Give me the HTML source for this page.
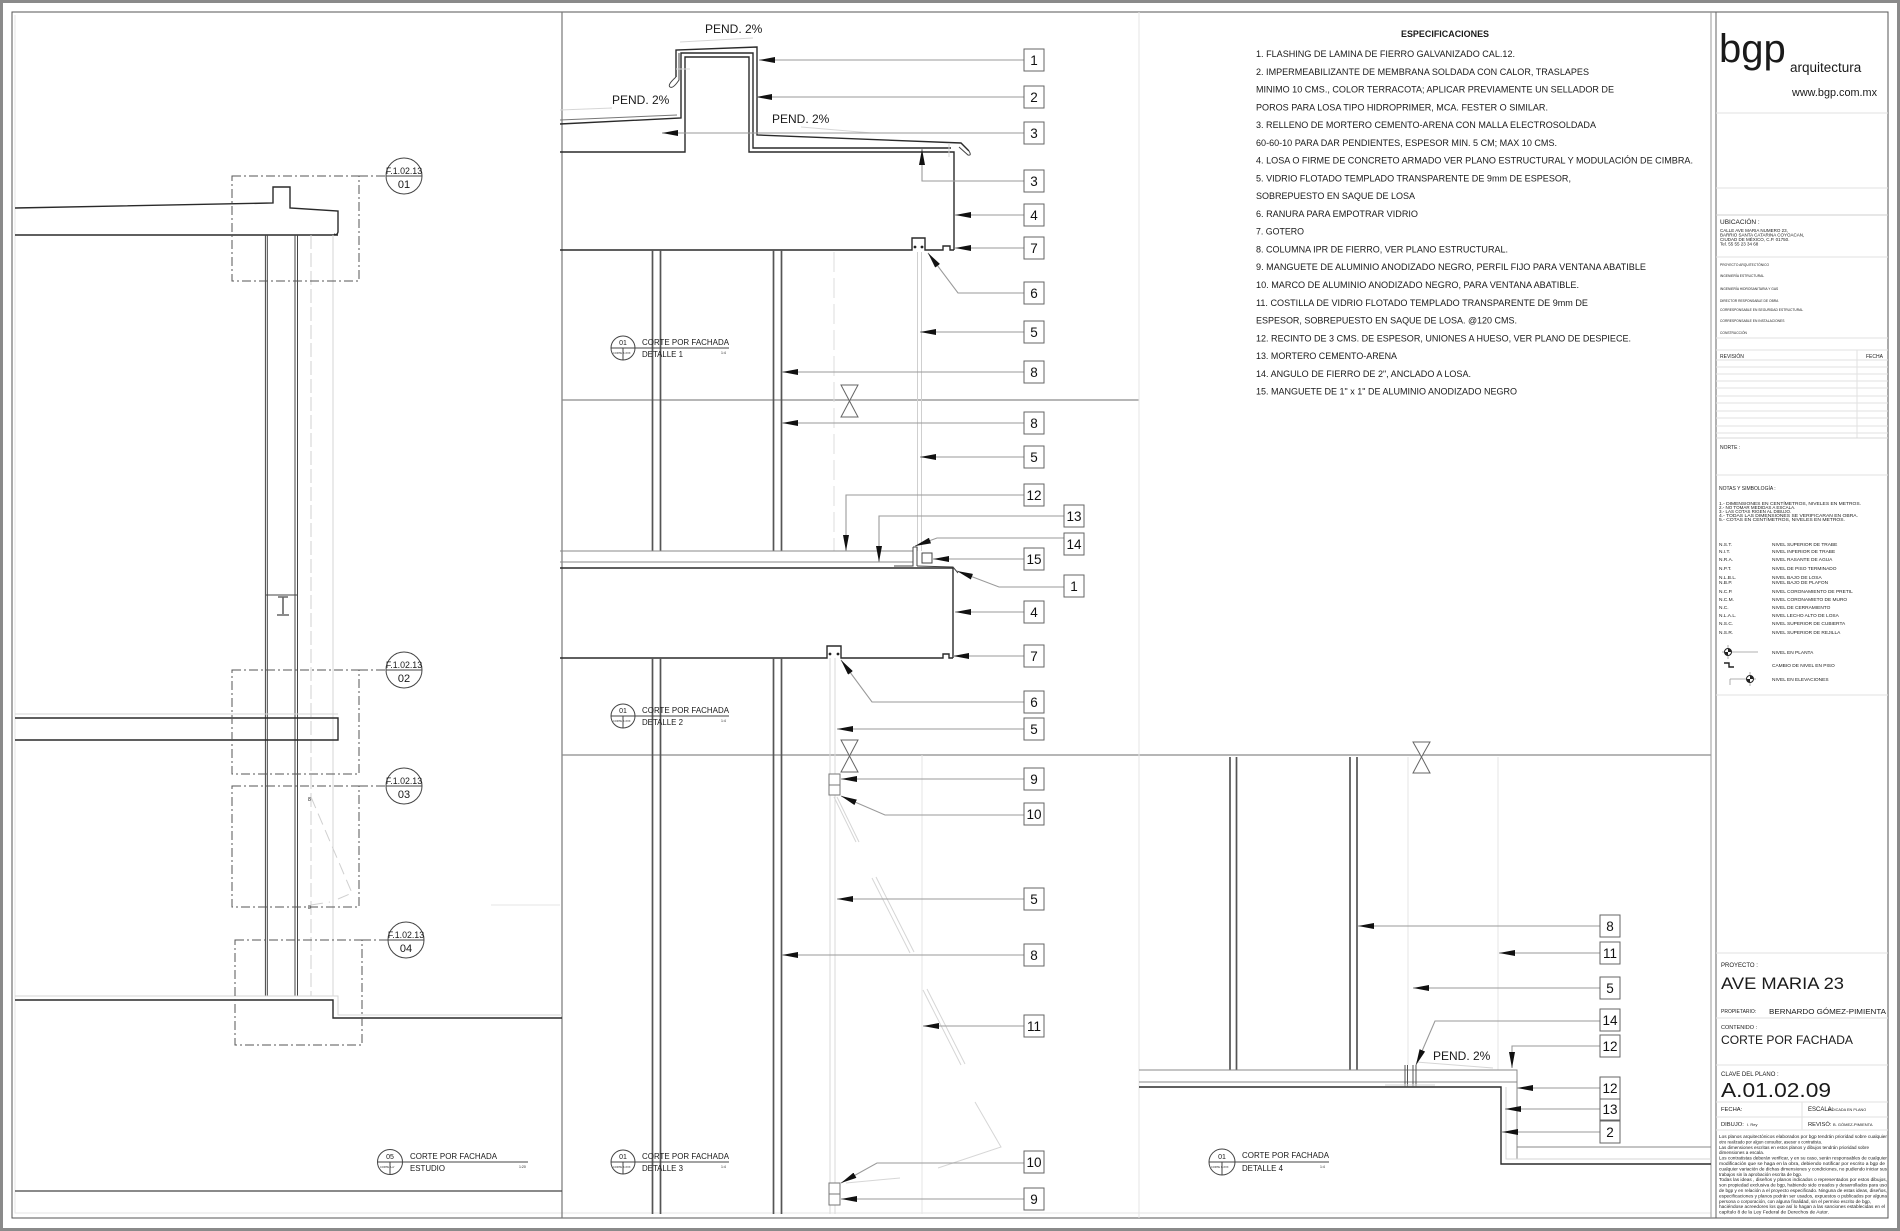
<!DOCTYPE html>
<html><head><meta charset="utf-8"><style>
html,body{margin:0;padding:0;background:#fff;overflow:hidden}
svg{display:block}
text{font-family:"Liberation Sans",Arial,sans-serif;fill:#1a1a1a}
.d{stroke:#2a2a2a;fill:none;stroke-width:1.4}
.t{stroke:#444;fill:none;stroke-width:1}
.g{stroke:#888;fill:none;stroke-width:1}
.lt{stroke:#d6d6d6;fill:none;stroke-width:1}
.lx{stroke:#e6e6e6;fill:none;stroke-width:1}
.col{stroke:#555;fill:none;stroke-width:1.7}
.l{stroke:#9a9a9a;fill:none;stroke-width:1.1;marker-end:url(#a)}
.b{fill:#fff;stroke:#666;stroke-width:1}
.n{font-size:13.5px;text-anchor:middle;fill:#111}
.dd{stroke:#555;fill:none;stroke-width:1;stroke-dasharray:9 3 2 3}
.sp{font-size:9px}
.tb{stroke:#e2e2e2;fill:none;stroke-width:1}
</style></head><body>
<svg width="1900" height="1231" viewBox="0 0 1900 1231" xmlns="http://www.w3.org/2000/svg">
<defs>
<marker id="a" markerUnits="userSpaceOnUse" markerWidth="16" markerHeight="6" refX="16" refY="3" orient="auto"><path d="M0,0 L16,3 L0,6 Z" fill="#111"/></marker>
</defs>
<rect x="0" y="0" width="1900" height="1231" fill="#fff"/>
<!-- outer frames -->
<rect x="1.5" y="1.5" width="1897" height="1228" fill="none" stroke="#8a8a8a" stroke-width="3"/>
<rect x="12" y="12" width="1876" height="1206" fill="none" stroke="#555" stroke-width="1"/>
<path class="lx" d="M15,15 V1213 H1711"/>

<!-- panel dividers -->
<path d="M562,12 V1218" stroke="#777" stroke-width="1.2" fill="none"/>
<path d="M562,400 H1139" stroke="#8a8a8a" stroke-width="1.2" fill="none"/>
<path d="M562,755 H1711" stroke="#8a8a8a" stroke-width="1.2" fill="none"/>
<path class="lx" d="M1139,12 V1218"/>
<path d="M1711,12 V1218" stroke="#999" stroke-width="1" fill="none"/>
<path d="M1716,12 V1218" stroke="#666" stroke-width="1" fill="none"/>

<!-- ================= LEFT SECTION ================= -->
<path class="d" d="M15,208 L273,203 V187 H290 V208 L338,211 V232 Q337,236 334,234"/>
<path class="d" d="M15,235 H338"/>
<!-- columns -->
<path class="t" d="M265.4,235 V996 M267.3,235 V996 M295,235 V996 M297.5,235 V996" stroke="#555"/>
<path d="M311,235 V996" stroke="#d0d0d0" stroke-dasharray="14 4" fill="none"/>
<path class="lt" d="M333,235 V996"/>
<!-- I beam -->
<path class="t" d="M266,595 H297"/>
<path d="M278,597 H288 M283,597 V614 M277,615 H289" stroke="#666" stroke-width="1.6" fill="none"/>
<!-- middle slab -->
<path class="lt" d="M15,714 H338"/>
<path class="d" d="M15,718 H338 V740 H15"/>
<!-- floor -->
<path class="lt" d="M15,996 H338 V1015 H562"/>
<path class="d" d="M15,1000 H333 V1018 H562" stroke-width="1.8"/>
<path d="M15,1191 H562" stroke="#444" stroke-width="1.2" fill="none"/>
<path class="lx" d="M491,905 H560"/>
<!-- door swing -->
<path d="M311,797 L352,893 L338,899 M311,905 L330,902" stroke="#d0d0d0" stroke-dasharray="12 6" fill="none"/>
<text x="308" y="801" font-size="5" fill="#aaa">8</text>
<text x="308" y="909" font-size="5" fill="#aaa">8</text>
<!-- dashed detail boxes -->
<rect class="dd" x="232" y="176" width="127" height="105"/>
<path class="dd" d="M359,176 H386"/>
<rect class="dd" x="232" y="670" width="127" height="104"/>
<path class="dd" d="M359,670 H386"/>
<rect class="dd" x="232" y="786" width="127" height="121"/>
<path class="dd" d="M359,786 H386"/>
<rect class="dd" x="235" y="940" width="127" height="105"/>
<path class="dd" d="M362,940 H388"/>
<!-- reference circles -->
<g>
<circle cx="404" cy="176" r="18" class="t"/><path class="t" d="M386,176 H422"/>
<text x="404" y="174" font-size="8.8" text-anchor="middle">F.1.02.13</text><text x="404" y="188" font-size="11" text-anchor="middle">01</text>
<circle cx="404" cy="670" r="18" class="t"/><path class="t" d="M386,670 H422"/>
<text x="404" y="668" font-size="8.8" text-anchor="middle">F.1.02.13</text><text x="404" y="682" font-size="11" text-anchor="middle">02</text>
<circle cx="404" cy="786" r="18" class="t"/><path class="t" d="M386,786 H422"/>
<text x="404" y="784" font-size="8.8" text-anchor="middle">F.1.02.13</text><text x="404" y="798" font-size="11" text-anchor="middle">03</text>
<circle cx="406" cy="940" r="18" class="t"/><path class="t" d="M388,940 H424"/>
<text x="406" y="938" font-size="8.8" text-anchor="middle">F.1.02.13</text><text x="406" y="952" font-size="11" text-anchor="middle">04</text>
</g>
<!-- label estudio -->
<g>
<circle cx="390" cy="1162" r="12.5" class="t"/><path class="t" d="M377.5,1162 H528 M390,1162 V1174.5"/>
<text x="390" y="1159" font-size="7" text-anchor="middle">05</text>
<text x="380" y="1168" font-size="2.6" fill="#555">CORTE A-A'</text>
<text x="410" y="1159" font-size="8" textLength="87" lengthAdjust="spacingAndGlyphs">CORTE POR FACHADA</text>
<text x="410" y="1171" font-size="8" textLength="35" lengthAdjust="spacingAndGlyphs">ESTUDIO</text>
<text x="519" y="1168" font-size="3.5" fill="#555">1:20</text>
</g>

<!-- ================= DETAIL 1 ================= -->
<path class="d" d="M560,152 H685 V57 H749 V152 H954 V250"/>
<path class="d" stroke-width="1.8" d="M560,250 H912 V238 H925 V250 H943 V246 H950 V250 H954"/>
<circle cx="915" cy="247" r="1.4" fill="#222"/><circle cx="922" cy="247" r="1.4" fill="#222"/>
<path class="d" stroke-width="1.1" d="M560,124 L681,118 V53 H753 V148 H951"/>
<path stroke="#777" stroke-width="1" fill="none" d="M560,120 L677,115"/>
<path class="d" stroke-width="1.1" d="M676,77 V50 L757,47 V135 L961,143 L969,151"/>
<path class="t" d="M676,77 Q667,85 670,87 Q673,89 679,80 V53"/>
<path class="t" d="M969,151 Q972,156 968,155 L959,147"/>
<path class="lt" d="M680,42 L753,38 M560,110 L612,108 M801,127 L872,133 M949,143 V157 M676,69 H690"/>
<text x="705" y="33" font-size="12">PEND. 2%</text>
<text x="612" y="104" font-size="12">PEND. 2%</text>
<text x="772" y="123" font-size="12">PEND. 2%</text>
<!-- columns detail 1-2 -->
<path class="col" d="M652.5,250 V551 M660.5,250 V551 M773.5,250 V551 M781.5,250 V551"/>
<path d="M834,252 V551" stroke="#dcdcdc" stroke-dasharray="20 6" fill="none"/>
<path d="M917.5,252 V551 M921.5,252 V551" stroke="#cfcfcf" fill="none"/>
<!-- break 1 -->
<path d="M841,385 H858 L849.5,401 Z M841,417 H858 L849.5,401 Z" fill="#fff" stroke="#666" stroke-width="1"/>
<!-- label detail 1 -->
<g>
<circle cx="623" cy="348" r="12" class="t"/><path class="t" d="M611,348 H729 M623,348 V360"/>
<text x="623" y="345" font-size="7" text-anchor="middle">01</text>
<text x="613" y="354" font-size="2.6" fill="#555">CORTE X-XXX</text>
<text x="642" y="345" font-size="8" textLength="87" lengthAdjust="spacingAndGlyphs">CORTE POR FACHADA</text>
<text x="642" y="357" font-size="8" textLength="41" lengthAdjust="spacingAndGlyphs">DETALLE 1</text>
<text x="721" y="354" font-size="3.5" fill="#555">1:4</text>
</g>
<!-- callouts detail 1 -->
<path class="l" d="M1024,60 H759"/><rect class="b" x="1024" y="49" width="20" height="22"/><text class="n" x="1034" y="65">1</text>
<path class="l" d="M1024,97 H756"/><rect class="b" x="1024" y="86" width="20" height="22"/><text class="n" x="1034" y="102">2</text>
<path class="l" d="M1024,133 H662"/><rect class="b" x="1024" y="122" width="20" height="22"/><text class="n" x="1034" y="138">3</text>
<path class="l" d="M1024,181 H922 V149"/><rect class="b" x="1024" y="170" width="20" height="22"/><text class="n" x="1034" y="186">3</text>
<path class="l" d="M1024,215 H955"/><rect class="b" x="1024" y="204" width="20" height="22"/><text class="n" x="1034" y="220">4</text>
<path class="l" d="M1024,248 H955"/><rect class="b" x="1024" y="237" width="20" height="22"/><text class="n" x="1034" y="253">7</text>
<path class="l" d="M1024,293 H958 L928,253"/><rect class="b" x="1024" y="282" width="20" height="22"/><text class="n" x="1034" y="298">6</text>
<path class="l" d="M1024,332 H920"/><rect class="b" x="1024" y="321" width="20" height="22"/><text class="n" x="1034" y="337">5</text>
<path class="l" d="M1024,372 H782"/><rect class="b" x="1024" y="361" width="20" height="22"/><text class="n" x="1034" y="377">8</text>

<!-- ================= DETAIL 2 ================= -->
<path class="g" d="M560,551 H913"/>
<path class="g" stroke="#999" d="M560,562 H913"/>
<path class="d" d="M560,568 H953 V658"/>
<path class="d" stroke-width="1.8" d="M560,658 H827 V646 H841 V658 H943 V654 H949 V658 H953"/>
<circle cx="830" cy="654" r="1.4" fill="#222"/><circle cx="838" cy="654" r="1.4" fill="#222"/>
<path class="t" d="M913,547 V566 H894 M917,547 V566 M913,547 H917"/>
<rect x="922" y="553" width="10" height="10" fill="#fff" stroke="#444"/>
<path class="t" d="M917,566 L953,567 L958,573"/>
<path class="col" d="M652.5,658 V1214 M660.5,658 V1214 M773.5,658 V1214 M781.5,658 V1214"/>
<path d="M830,658 V1214 M835,658 V1214" stroke="#dadada" fill="none"/>
<path class="lx" d="M922,755 V1214"/>
<path d="M841,740 H858 L849.5,756 Z M841,772 H858 L849.5,756 Z" fill="#fff" stroke="#666" stroke-width="1"/>
<g>
<circle cx="623" cy="716" r="12" class="t"/><path class="t" d="M611,716 H729 M623,716 V728"/>
<text x="623" y="713" font-size="7" text-anchor="middle">01</text>
<text x="613" y="722" font-size="2.6" fill="#555">CORTE X-XXX</text>
<text x="642" y="713" font-size="8" textLength="87" lengthAdjust="spacingAndGlyphs">CORTE POR FACHADA</text>
<text x="642" y="725" font-size="8" textLength="41" lengthAdjust="spacingAndGlyphs">DETALLE 2</text>
<text x="721" y="722" font-size="3.5" fill="#555">1:4</text>
</g>
<path class="l" d="M1024,423 H782"/><rect class="b" x="1024" y="412" width="20" height="22"/><text class="n" x="1034" y="428">8</text>
<path class="l" d="M1024,457 H920"/><rect class="b" x="1024" y="446" width="20" height="22"/><text class="n" x="1034" y="462">5</text>
<path class="l" d="M1024,495 H846 V551"/><rect class="b" x="1024" y="484" width="20" height="22"/><text class="n" x="1034" y="500">12</text>
<path class="l" d="M1064,516 H879 V562"/><rect class="b" x="1064" y="505" width="20" height="22"/><text class="n" x="1074" y="521">13</text>
<path class="l" d="M1064,538 H937 L915,546"/><rect class="b" x="1064" y="533" width="20" height="22"/><text class="n" x="1074" y="549">14</text>
<path class="l" d="M1024,559 H933"/><rect class="b" x="1024" y="548" width="20" height="22"/><text class="n" x="1034" y="564">15</text>
<path class="l" d="M1064,587 H999 L957,571"/><rect class="b" x="1064" y="575" width="20" height="22"/><text class="n" x="1074" y="591">1</text>
<path class="l" d="M1024,612 H955"/><rect class="b" x="1024" y="601" width="20" height="22"/><text class="n" x="1034" y="617">4</text>
<path class="l" d="M1024,656 H953"/><rect class="b" x="1024" y="645" width="20" height="22"/><text class="n" x="1034" y="661">7</text>
<path class="l" d="M1024,702 H872 L841,660"/><rect class="b" x="1024" y="691" width="20" height="22"/><text class="n" x="1034" y="707">6</text>
<path class="l" d="M1024,729 H837"/><rect class="b" x="1024" y="718" width="20" height="22"/><text class="n" x="1034" y="734">5</text>

<!-- ================= DETAIL 3 ================= -->
<rect x="829" y="774" width="11" height="21" fill="#fff" stroke="#777"/><path d="M829,785 H840" stroke="#777"/>
<rect x="829" y="1183" width="11" height="22" fill="#fff" stroke="#777"/><path d="M829,1194 H840" stroke="#777"/>
<path class="lt" d="M834,797 L856,842 M837,797 L859,842 M872,878 L910,953 M876,877 L914,952 M923,990 L961,1065 M927,989 L965,1064 M975,1102 L1001,1147 L938,1168 M846,1183 L900,1178"/>
<g>
<circle cx="623" cy="1162" r="12" class="t"/><path class="t" d="M611,1162 H729 M623,1162 V1174"/>
<text x="623" y="1159" font-size="7" text-anchor="middle">01</text>
<text x="613" y="1168" font-size="2.6" fill="#555">CORTE X-XXX</text>
<text x="642" y="1159" font-size="8" textLength="87" lengthAdjust="spacingAndGlyphs">CORTE POR FACHADA</text>
<text x="642" y="1171" font-size="8" textLength="41" lengthAdjust="spacingAndGlyphs">DETALLE 3</text>
<text x="721" y="1168" font-size="3.5" fill="#555">1:4</text>
</g>
<path class="l" d="M1024,779 H841"/><rect class="b" x="1024" y="768" width="20" height="22"/><text class="n" x="1034" y="784">9</text>
<path class="l" d="M1024,815 H885 L841,796"/><rect class="b" x="1024" y="803" width="20" height="22"/><text class="n" x="1034" y="819">10</text>
<path class="l" d="M1024,899 H837"/><rect class="b" x="1024" y="888" width="20" height="22"/><text class="n" x="1034" y="904">5</text>
<path class="l" d="M1024,955 H782"/><rect class="b" x="1024" y="944" width="20" height="22"/><text class="n" x="1034" y="960">8</text>
<path class="l" d="M1024,1026 H923"/><rect class="b" x="1024" y="1015" width="20" height="22"/><text class="n" x="1034" y="1031">11</text>
<path class="l" d="M1024,1163 H877 L841,1183"/><rect class="b" x="1024" y="1151" width="20" height="22"/><text class="n" x="1034" y="1167">10</text>
<path class="l" d="M1024,1199 H841"/><rect class="b" x="1024" y="1188" width="20" height="22"/><text class="n" x="1034" y="1204">9</text>

<!-- ================= DETAIL 4 ================= -->
<path class="col" d="M1230,757 V1070 M1236.5,757 V1070 M1350,757 V1070 M1357,757 V1070"/>
<path class="lx" d="M1408,757 V1065 M1498,757 V1070"/>
<path d="M1413,742 H1430 L1421.5,757 Z M1413,773 H1430 L1421.5,757 Z" fill="#fff" stroke="#666" stroke-width="1"/>
<path class="g" d="M1139,1070 H1517 V1159"/>
<path class="g" stroke="#aaa" d="M1139,1082 H1517"/>
<path class="d" stroke-width="2" d="M1139,1087 H1501 V1164 H1711"/>
<path class="lt" stroke="#bbb" d="M1506,1087 V1159 H1711"/>
<path class="g" stroke="#999" d="M1517,1147 H1711"/>
<path stroke="#555" stroke-width="1" fill="none" d="M1405,1065 V1087 M1407.5,1065 V1087 M1413,1065 V1087 M1416,1065 V1087"/>
<path class="lt" d="M1385,1085 H1435 M1416,1062 L1493,1068"/>
<text x="1433" y="1060" font-size="12">PEND. 2%</text>
<g>
<circle cx="1222" cy="1162" r="13" class="t"/><path class="t" d="M1209,1162 H1329 M1222,1162 V1175"/>
<text x="1222" y="1159" font-size="7" text-anchor="middle">01</text>
<text x="1211" y="1168" font-size="2.6" fill="#555">CORTE X-XXX</text>
<text x="1242" y="1158" font-size="8" textLength="87" lengthAdjust="spacingAndGlyphs">CORTE POR FACHADA</text>
<text x="1242" y="1171" font-size="8" textLength="41" lengthAdjust="spacingAndGlyphs">DETALLE 4</text>
<text x="1320" y="1168" font-size="3.5" fill="#555">1:4</text>
</g>
<path class="l" d="M1600,926 H1358"/><rect class="b" x="1600" y="915" width="20" height="22"/><text class="n" x="1610" y="931">8</text>
<path class="l" d="M1600,953 H1499"/><rect class="b" x="1600" y="942" width="20" height="22"/><text class="n" x="1610" y="958">11</text>
<path class="l" d="M1600,988 H1413"/><rect class="b" x="1600" y="977" width="20" height="22"/><text class="n" x="1610" y="993">5</text>
<path class="l" d="M1600,1021 H1435 L1416,1065"/><rect class="b" x="1600" y="1009" width="20" height="22"/><text class="n" x="1610" y="1025">14</text>
<path class="l" d="M1600,1046 H1512 V1068"/><rect class="b" x="1600" y="1035" width="20" height="22"/><text class="n" x="1610" y="1051">12</text>
<path class="l" d="M1600,1088 H1517"/><rect class="b" x="1600" y="1077" width="20" height="22"/><text class="n" x="1610" y="1093">12</text>
<path class="l" d="M1600,1109 H1505"/><rect class="b" x="1600" y="1099" width="20" height="21"/><text class="n" x="1610" y="1114">13</text>
<path class="l" d="M1600,1132 H1502"/><rect class="b" x="1600" y="1121" width="20" height="22"/><text class="n" x="1610" y="1137">2</text>

<!-- ================= SPECIFICATIONS ================= -->
<text x="1445" y="37" font-size="9" font-weight="bold" text-anchor="middle" textLength="88" lengthAdjust="spacingAndGlyphs">ESPECIFICACIONES</text>
<g class="sp">
<text x="1256" y="57" textLength="259" lengthAdjust="spacingAndGlyphs">1. FLASHING DE LAMINA DE FIERRO GALVANIZADO CAL.12.</text>
<text x="1256" y="74.8" textLength="333" lengthAdjust="spacingAndGlyphs">2. IMPERMEABILIZANTE DE MEMBRANA SOLDADA CON CALOR, TRASLAPES</text>
<text x="1256" y="92.5" textLength="358" lengthAdjust="spacingAndGlyphs">MINIMO 10 CMS., COLOR TERRACOTA; APLICAR PREVIAMENTE UN SELLADOR DE</text>
<text x="1256" y="110.3" textLength="292" lengthAdjust="spacingAndGlyphs">POROS PARA LOSA TIPO HIDROPRIMER, MCA. FESTER O SIMILAR.</text>
<text x="1256" y="128.1" textLength="340" lengthAdjust="spacingAndGlyphs">3. RELLENO DE MORTERO CEMENTO-ARENA CON MALLA ELECTROSOLDADA</text>
<text x="1256" y="145.9" textLength="301" lengthAdjust="spacingAndGlyphs">60-60-10 PARA DAR PENDIENTES, ESPESOR MIN. 5 CM; MAX 10 CMS.</text>
<text x="1256" y="163.6" textLength="437" lengthAdjust="spacingAndGlyphs">4. LOSA O FIRME DE CONCRETO ARMADO VER PLANO ESTRUCTURAL Y MODULACIÓN DE CIMBRA.</text>
<text x="1256" y="181.4" textLength="315" lengthAdjust="spacingAndGlyphs">5. VIDRIO FLOTADO TEMPLADO TRANSPARENTE DE 9mm DE ESPESOR,</text>
<text x="1256" y="199.2" textLength="159" lengthAdjust="spacingAndGlyphs">SOBREPUESTO EN SAQUE DE LOSA</text>
<text x="1256" y="216.9" textLength="162" lengthAdjust="spacingAndGlyphs">6. RANURA PARA EMPOTRAR VIDRIO</text>
<text x="1256" y="234.7" textLength="48" lengthAdjust="spacingAndGlyphs">7. GOTERO</text>
<text x="1256" y="252.5" textLength="252" lengthAdjust="spacingAndGlyphs">8. COLUMNA IPR DE FIERRO, VER PLANO ESTRUCTURAL.</text>
<text x="1256" y="270.2" textLength="390" lengthAdjust="spacingAndGlyphs">9. MANGUETE DE ALUMINIO ANODIZADO NEGRO, PERFIL FIJO PARA VENTANA ABATIBLE</text>
<text x="1256" y="288" textLength="323" lengthAdjust="spacingAndGlyphs">10. MARCO DE ALUMINIO ANODIZADO NEGRO, PARA VENTANA ABATIBLE.</text>
<text x="1256" y="305.8" textLength="332" lengthAdjust="spacingAndGlyphs">11. COSTILLA DE VIDRIO FLOTADO TEMPLADO TRANSPARENTE DE 9mm DE</text>
<text x="1256" y="323.6" textLength="261" lengthAdjust="spacingAndGlyphs">ESPESOR, SOBREPUESTO EN SAQUE DE LOSA. @120 CMS.</text>
<text x="1256" y="341.3" textLength="375" lengthAdjust="spacingAndGlyphs">12. RECINTO DE 3 CMS. DE ESPESOR, UNIONES A HUESO, VER PLANO DE DESPIECE.</text>
<text x="1256" y="359.1" textLength="141" lengthAdjust="spacingAndGlyphs">13. MORTERO CEMENTO-ARENA</text>
<text x="1256" y="376.9" textLength="215" lengthAdjust="spacingAndGlyphs">14. ANGULO DE FIERRO DE 2", ANCLADO A LOSA.</text>
<text x="1256" y="394.6" textLength="261" lengthAdjust="spacingAndGlyphs">15. MANGUETE DE 1" x 1" DE ALUMINIO ANODIZADO NEGRO</text>
</g>

<!-- ================= TITLE BLOCK ================= -->
<text x="1719" y="62" font-size="40" fill="#231f20">bgp</text>
<text x="1790" y="72" font-size="13.5" fill="#231f20">arquitectura</text>
<text x="1792" y="96" font-size="10.8" textLength="85" lengthAdjust="spacingAndGlyphs" fill="#231f20">www.bgp.com.mx</text>
<path class="tb" d="M1716,113 H1888 M1716,188 H1888 M1716,257 H1888 M1716,338 H1888 M1716,350 H1888 M1716,475 H1888 M1716,695 H1888 M1716,953 H1888"/>
<path d="M1716,215 H1888" stroke="#cfcfcf" fill="none"/>
<text x="1720" y="224" font-size="6.5" fill="#444">UBICACIÓN :</text>
<g font-size="4.5" fill="#555">
<text x="1720" y="232">CALLE AVE MARIA NUMERO 23,</text>
<text x="1720" y="236.5">BARRIO SANTA CATARINA COYOACAN,</text>
<text x="1720" y="241">CIUDAD DE MÉXICO, C.P. 01750.</text>
<text x="1720" y="245.5">Tel. 55 55 23 34 68</text>
</g>
<g font-size="3.3" fill="#888">
<text x="1720" y="266">PROYECTO ARQUITECTÓNICO</text>
<text x="1720" y="277">INGENIERÍA ESTRUCTURAL</text>
<text x="1720" y="290">INGENIERÍA HIDROSANITARIA Y GAS</text>
<text x="1720" y="302">DIRECTOR RESPONSABLE DE OBRA</text>
<text x="1720" y="311">CORRESPONSABLE EN SEGURIDAD ESTRUCTURAL</text>
<text x="1720" y="322">CORRESPONSABLE EN INSTALACIONES</text>
<text x="1720" y="334">CONSTRUCCIÓN</text>
</g>
<text x="1720" y="358" font-size="5" fill="#555">REVISIÓN</text>
<text x="1866" y="358" font-size="5" fill="#555">FECHA</text>
<path class="tb" d="M1716,360 H1888 M1716,367 H1888 M1716,374 H1888 M1716,381 H1888 M1716,388 H1888 M1716,396 H1888 M1716,403 H1888 M1716,411 H1888 M1716,418 H1888 M1716,426 H1888 M1716,433 H1888 M1857,350 V438"/>
<path d="M1716,438 H1888" stroke="#d8d8d8" fill="none"/>
<text x="1720" y="449" font-size="5" fill="#555">NORTE :</text>
<text x="1719" y="490" font-size="5" fill="#444">NOTAS Y SIMBOLOGÍA :</text>
<g font-size="4.5" fill="#444">
<text x="1719" y="505" textLength="142" lengthAdjust="spacingAndGlyphs">1.- DIMENSIONES EN CENTÍMETROS, NIVELES EN METROS.</text>
<text x="1719" y="509">2.- NO TOMAR MEDIDAS A ESCALA.</text>
<text x="1719" y="513">3.- LAS COTAS RIGEN AL DIBUJO.</text>
<text x="1719" y="517" textLength="139" lengthAdjust="spacingAndGlyphs">4.- TODAS LAS DIMENSIONES SE VERIFICARAN EN OBRA.</text>
<text x="1719" y="521" textLength="126" lengthAdjust="spacingAndGlyphs">5.- COTAS EN CENTÍMETROS, NIVELES EN METROS.</text>
</g>
<g font-size="4.8" fill="#444">
<text x="1719" y="546">N.S.T.</text><text x="1772" y="546">NIVEL SUPERIOR DE TRABE</text>
<text x="1719" y="553">N.I.T.</text><text x="1772" y="553">NIVEL INFERIOR DE TRABE</text>
<text x="1719" y="561">N.R.A.</text><text x="1772" y="561">NIVEL RASANTE DE AGUA</text>
<text x="1719" y="570">N.P.T.</text><text x="1772" y="570">NIVEL DE PISO TERMINADO</text>
<text x="1719" y="579">N.L.B.L.</text><text x="1772" y="579">NIVEL BAJO DE LOSA</text>
<text x="1719" y="584">N.B.P.</text><text x="1772" y="584">NIVEL BAJO DE PLAFON</text>
<text x="1719" y="593">N.C.P.</text><text x="1772" y="593">NIVEL CORONAMIENTO DE PRETIL</text>
<text x="1719" y="601">N.C.M.</text><text x="1772" y="601">NIVEL CORONAMIETO DE MURO</text>
<text x="1719" y="609">N.C.</text><text x="1772" y="609">NIVEL DE CERRAMIENTO</text>
<text x="1719" y="617">N.L.A.L.</text><text x="1772" y="617">NIVEL LECHO ALTO DE LOSA</text>
<text x="1719" y="625">N.S.C.</text><text x="1772" y="625">NIVEL SUPERIOR DE CUBIERTA</text>
<text x="1719" y="634">N.S.R.</text><text x="1772" y="634">NIVEL SUPERIOR DE REJILLA</text>
</g>
<!-- symbols -->
<path d="M1722,652 H1758 M1728,645 V659" stroke="#999" fill="none" stroke-width="0.8"/>
<circle cx="1728" cy="652" r="3.5" fill="#fff" stroke="#222"/>
<path d="M1728,652 V648.5 A3.5,3.5 0 0 1 1731.5,652 Z M1728,652 V655.5 A3.5,3.5 0 0 1 1724.5,652 Z" fill="#222"/>
<text x="1772" y="654" font-size="4.8" fill="#444">NIVEL EN PLANTA</text>
<path d="M1724,663 H1729 V667 H1734" stroke="#222" stroke-width="1.4" fill="none"/>
<text x="1772" y="667" font-size="4.8" fill="#444">CAMBIO DE NIVEL EN PISO</text>
<path d="M1730,679 H1756 M1750,672 V686 M1730,679 V685" stroke="#999" fill="none" stroke-width="0.8"/>
<circle cx="1750" cy="679" r="3.5" fill="#fff" stroke="#222"/>
<path d="M1750,679 V675.5 A3.5,3.5 0 0 1 1753.5,679 Z M1750,679 V682.5 A3.5,3.5 0 0 1 1746.5,679 Z" fill="#222"/>
<text x="1772" y="681" font-size="4.8" fill="#444">NIVEL EN ELEVACIONES</text>
<!-- project -->
<text x="1721" y="967" font-size="6" fill="#444">PROYECTO :</text>
<text x="1721" y="989" font-size="16.5" textLength="123" lengthAdjust="spacingAndGlyphs" fill="#231f20">AVE MARIA 23</text>
<text x="1721" y="1013" font-size="5" fill="#444">PROPIETARIO:</text>
<text x="1769" y="1014" font-size="7.3" textLength="117" lengthAdjust="spacingAndGlyphs" fill="#231f20">BERNARDO GÓMEZ-PIMIENTA</text>
<path class="tb" d="M1716,1018 H1888 M1716,1065 H1888"/>
<text x="1721" y="1029" font-size="5.5" fill="#444">CONTENIDO :</text>
<text x="1721" y="1044" font-size="12" textLength="132" lengthAdjust="spacingAndGlyphs" fill="#231f20">CORTE POR FACHADA</text>
<text x="1721" y="1076" font-size="6" fill="#444">CLAVE DEL PLANO :</text>
<text x="1721" y="1097" font-size="20.6" textLength="110" lengthAdjust="spacingAndGlyphs" fill="#231f20">A.01.02.09</text>
<path class="tb" d="M1716,1102 H1888 M1716,1117 H1888 M1716,1130 H1888 M1802,1102 V1130"/>
<text x="1721" y="1111" font-size="5.8" fill="#444">FECHA:</text>
<text x="1808" y="1111" font-size="6" fill="#444">ESCALA:</text>
<text x="1828" y="1111" font-size="3.8" fill="#555">INDICADA EN PLANO</text>
<text x="1721" y="1126" font-size="5.8" fill="#444">DIBUJO:</text>
<text x="1747" y="1126" font-size="4" fill="#555">I. Rey</text>
<text x="1808" y="1126" font-size="5.8" fill="#444">REVISÓ:</text>
<text x="1833" y="1126" font-size="4" fill="#555">B. GÓMEZ-PIMIENTA</text>
<g font-size="4.3" fill="#333">
<text x="1719" y="1138" textLength="168" lengthAdjust="spacingAndGlyphs">Los planos arquitectónicos elaborados por bgp tendrán prioridad sobre cualquier</text>
<text x="1719" y="1143.4" textLength="103" lengthAdjust="spacingAndGlyphs">otro realizado por algun consultor, asesor o contratista.</text>
<text x="1719" y="1148.8" textLength="150" lengthAdjust="spacingAndGlyphs">Las dimensiones escritas en estos planos y dibujos tendrán prioridad sobre</text>
<text x="1719" y="1154.2" textLength="45" lengthAdjust="spacingAndGlyphs">dimensiones a escala.</text>
<text x="1719" y="1159.6" textLength="168" lengthAdjust="spacingAndGlyphs">Los contratistas deberán verificar, y en su caso, serán responsables de cualquier</text>
<text x="1719" y="1165" textLength="166" lengthAdjust="spacingAndGlyphs">modificación que se haga en la obra, debiendo notificar por escrito a bgp de</text>
<text x="1719" y="1170.4" textLength="168" lengthAdjust="spacingAndGlyphs">cualquier variación de dichas dimensiones y condiciones, no pudiendo iniciar sus</text>
<text x="1719" y="1175.8" textLength="83" lengthAdjust="spacingAndGlyphs">trabajos sin la aprobación escrita de bgp.</text>
<text x="1719" y="1181.2" textLength="168" lengthAdjust="spacingAndGlyphs">Todas las ideas , diseños y planos indicados o representados por estos dibujos,</text>
<text x="1719" y="1186.6" textLength="168" lengthAdjust="spacingAndGlyphs">son propiedad exclusiva de bgp, habiendo sido creados y desarrollados para uso</text>
<text x="1719" y="1192" textLength="168" lengthAdjust="spacingAndGlyphs">de bgp y en relación a el proyecto especificado. Ninguna de estas ideas, diseños,</text>
<text x="1719" y="1197.4" textLength="168" lengthAdjust="spacingAndGlyphs">especificaciones y planos podrán ser usados, expuestos o publicados por alguna</text>
<text x="1719" y="1202.8" textLength="152" lengthAdjust="spacingAndGlyphs">persona o corporación, con alguna finalidad, sin el permiso escrito de bgp,</text>
<text x="1719" y="1208.2" textLength="166" lengthAdjust="spacingAndGlyphs">haciéndose acreedores los que así lo hagan a las sanciones establecidas en el</text>
<text x="1719" y="1213.6" textLength="110" lengthAdjust="spacingAndGlyphs">capítulo 8 de la Ley Federal de Derechos de Autor.</text>
</g>
</svg>
</body></html>
